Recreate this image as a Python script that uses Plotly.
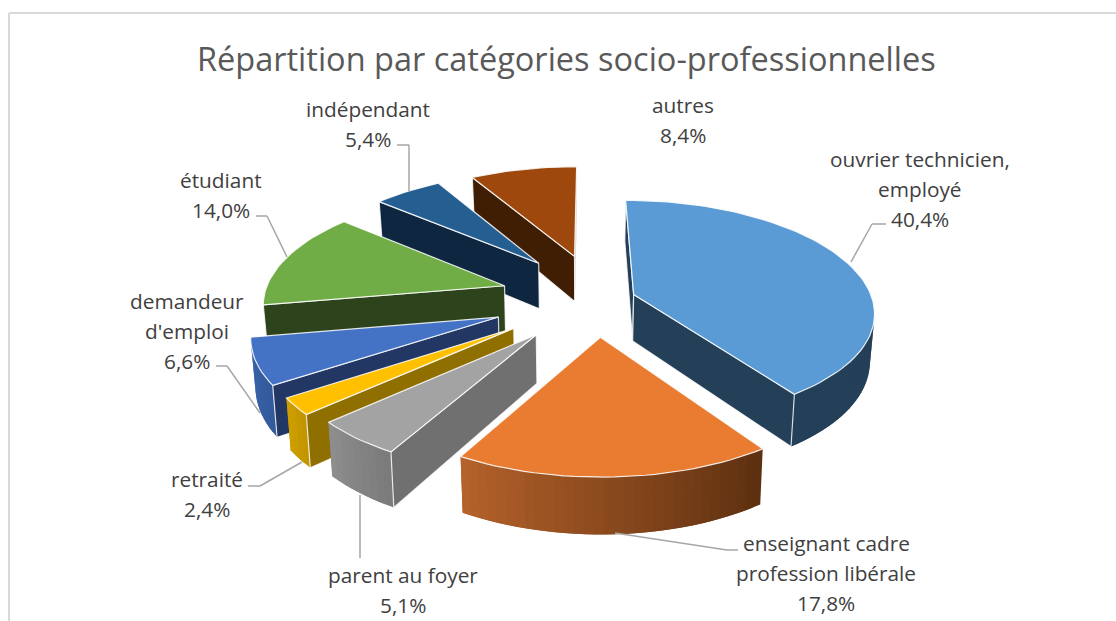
import math
import plotly.graph_objects as go

TITLE = "Répartition par catégories socio-professionnelles"
categories = ["ouvrier technicien, employé", "enseignant cadre profession libérale",
              "parent au foyer", "retraité", "demandeur d'emploi", "étudiant",
              "indépendant", "autres"]
values = [40.4, 17.8, 5.1, 2.4, 6.6, 14.0, 5.4, 8.4]
top_colors = ["#5b9bd5", "#e97c30", "#a3a3a3", "#ffc000", "#4472c4", "#70ad47", "#255e91", "#9e480e"]
radial_colors = ["#243f58", "#5c2f10", "#707070", "#8f6f00", "#223763", "#2d431b", "#0e263f", "#401e03"]
outer_left = ["#243f58", "#b5622a", "#8e8e8e", "#d0a000", "#3a66ad", "#3f6128", "#16375a", "#5a2a08"]
outer_right = ["#243f58", "#5c2f10", "#7a7a7a", "#c09400", "#33599a", "#3f6128", "#16375a", "#5a2a08"]
draw_order = [7, 6, 5, 0, 4, 3, 2, 1]
slice_nudge = [(0, 9), (29, 9), (13, 14), (2, 13), (-4, 10), (3, -1), (14, -8), (24, -9)]

label_lines = [["ouvrier technicien,", "employé", "40,4%"], ["enseignant cadre", "profession libérale", "17,8%"],
               ["parent au foyer", "5,1%"], ["retraité", "2,4%"], ["demandeur", "d'emploi", "6,6%"],
               ["étudiant", "14,0%"], ["indépendant", "5,4%"], ["autres", "8,4%"]]
label_x = [920, 826, 403, 207, 187, 221, 368, 683]
label_y0 = [159, 543, 575, 479, 301, 180, 109, 105]
leaders = [[(851, 262), (872, 224), (886, 224)], [(615, 533), (727, 550), (738, 550)],
           [(360, 495), (360, 558)], [(302, 462), (260, 486), (248, 486)],
           [(260, 413), (227, 366), (216, 366)], [(287, 257), (267, 216), (256, 216)],
           [(409, 192), (409, 145), (397, 145)]]

CX, CY, RX, RY, K, EXPLODE, HEIGHT = 568, 295, 240, 110, 0.14, 0.29, 47
LABEL_FONT = "Open Sans"
LINE_STEP = 30


def project(px, py, z, nudge=(0, 0)):
    s = 1 / (1 + K * py)
    shrink = 1 - 0.015 * z
    return (CX + RX * px * s * shrink + nudge[0], CY - RY * py * s + HEIGHT * s * z + nudge[1])


def area(poly):
    return sum(poly[i][0] * poly[(i + 1) % len(poly)][1] - poly[(i + 1) % len(poly)][0] * poly[i][1]
               for i in range(len(poly))) / 2


def mix(c1, c2, t):
    a = [int(c1[i:i + 2], 16) for i in (1, 3, 5)]
    b = [int(c2[i:i + 2], 16) for i in (1, 3, 5)]
    return "rgb(%d,%d,%d)" % tuple(round(a[i] + (b[i] - a[i]) * t) for i in range(3))


fig = go.Figure()


def add_poly(poly, fill, edge=None, name=""):
    xs = [p[0] for p in poly] + [poly[0][0]]
    ys = [p[1] for p in poly] + [poly[0][1]]
    fig.add_trace(go.Scatter(x=xs, y=ys, mode="lines", fill="toself", fillcolor=fill,
                             line=dict(color=edge or fill, width=1.2 if edge else 0),
                             hoverinfo="text" if name else "skip", text=name, showlegend=False))


total = sum(values)
starts = []
acc = 0.0
for v in values:
    starts.append(acc)
    acc += v / total * 2 * math.pi

for i in draw_order:
    a0 = starts[i]
    a1 = a0 + values[i] / total * 2 * math.pi
    mid = (a0 + a1) / 2
    ox, oy = EXPLODE * math.sin(mid), EXPLODE * math.cos(mid)
    nudge = slice_nudge[i]
    n = max(3, int((a1 - a0) / math.radians(2)))
    rim = [(ox + math.sin(a0 + (a1 - a0) * j / n), oy + math.cos(a0 + (a1 - a0) * j / n)) for j in range(n + 1)]
    # outer wall: each segment overlaps the next one, so no seams show
    for j in range(n):
        k = min(j + 2, n)
        q = [project(*rim[j], 0, nudge), project(*rim[j + 1], 0, nudge), project(*rim[k], 0, nudge),
             project(*rim[k], 1, nudge), project(*rim[j + 1], 1, nudge), project(*rim[j], 1, nudge)]
        if area(q) < 0:
            t = (j + 0.5) / n
            add_poly(q, mix(outer_left[i], outer_right[i], 1 - t))
    # radial walls
    q0 = [project(ox, oy, 0, nudge), project(*rim[0], 0, nudge), project(*rim[0], 1, nudge), project(ox, oy, 1, nudge)]
    q1 = [project(*rim[-1], 0, nudge), project(ox, oy, 0, nudge), project(ox, oy, 1, nudge), project(*rim[-1], 1, nudge)]
    for q in (q0, q1):
        if area(q) < 0:
            add_poly(q, radial_colors[i], "rgba(255,255,255,0.8)")
    top = [project(ox, oy, 0, nudge)] + [project(*p, 0, nudge) for p in rim]
    add_poly(top, top_colors[i], "rgba(255,255,255,0.85)", "%s: %s%%" % (categories[i], str(values[i]).replace(".", ",")))

shapes = [dict(type="line", x0=9, x1=9, y0=13, y1=621, line=dict(color="#d9d9d9", width=2)),
          dict(type="line", x0=9, x1=1116, y0=13, y1=13, line=dict(color="#d9d9d9", width=2))]
for pts in leaders:
    for a, b in zip(pts, pts[1:]):
        shapes.append(dict(type="line", x0=a[0], y0=a[1], x1=b[0], y1=b[1], line=dict(color="#a6a6a6", width=1.5)))

annotations = [dict(x=566, y=58, text=TITLE, showarrow=False, xanchor="center", yanchor="middle",
                    font=dict(family=LABEL_FONT, size=32.5, color="#595959"))]
for lines, x, y0 in zip(label_lines, label_x, label_y0):
    for row, txt in enumerate(lines):
        annotations.append(dict(x=x, y=y0 + row * LINE_STEP, text=txt, showarrow=False, xanchor="center",
                                yanchor="middle", font=dict(family=LABEL_FONT, size=20.8, color="#404040")))

fig.update_layout(width=1116, height=621, margin=dict(l=0, r=0, t=0, b=0), paper_bgcolor="white",
                  plot_bgcolor="white", shapes=shapes, annotations=annotations, showlegend=False,
                  xaxis=dict(range=[0, 1116], visible=False, fixedrange=True),
                  yaxis=dict(range=[621, 0], visible=False, fixedrange=True))
fig.write_html("out.html", config={"displayModeBar": False},
               post_script="document.body.style.margin='0';document.body.style.overflow='hidden';")
